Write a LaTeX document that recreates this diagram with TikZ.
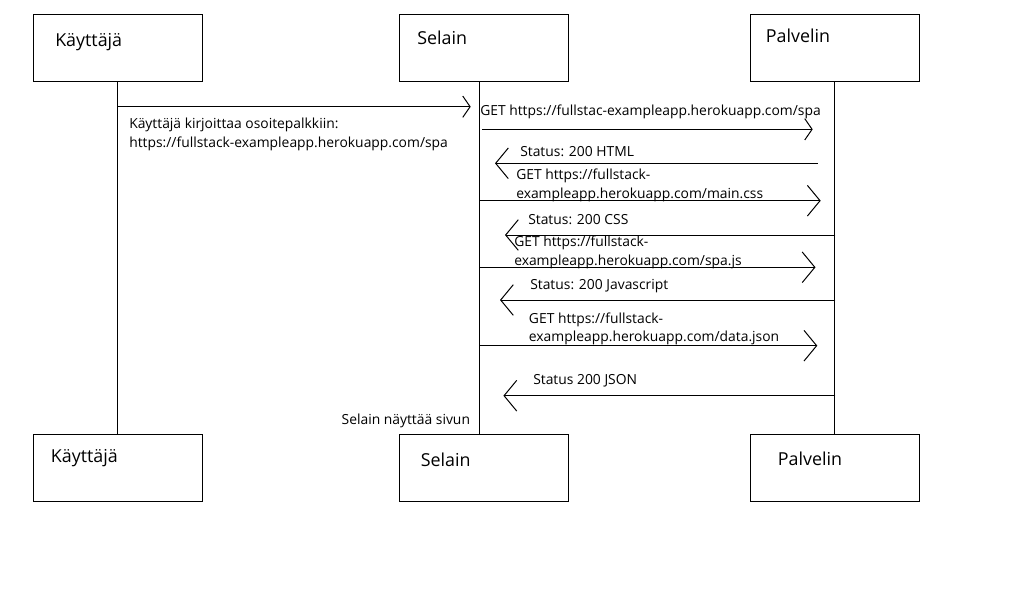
\documentclass[tikz,border=0pt]{standalone}
\usepackage{fontspec}
\setmainfont{Open Sans}
\usetikzlibrary{arrows.meta}

\begin{document}
\begin{tikzpicture}[x=0.75pt, y=-0.75pt]
		\tikzstyle {actor box} = [draw, rectangle, line width=0.75pt, minimum width=126.75pt, minimum height=50.25pt, inner sep=0pt, outer sep=0pt]
		\tikzstyle {box label} = [anchor=base west, inner sep=0pt, font=\fontsize{13.4}{16}\selectfont]
		\tikzstyle {msg label} = [anchor=base west, inner sep=0pt, align=left, font=\fontsize{10.4}{13.6}\selectfont]
		\tikzstyle {life line} = [line width=0.75pt]
		\tikzstyle {msg} = [line width=0.75pt, -{Straight Barb[length=9.5pt, width=23pt]}]
		\tikzstyle {short msg} = [line width=0.75pt, -{Straight Barb[length=5.5pt, width=16pt]}]

		\useasboundingbox[fill=white] (0,0) rectangle (1026,612);

		% actors, top and bottom
		\node[actor box] (kayttaja top) at (117.8,47.6) {};
		\node[actor box] (selain top) at (483.8,47.6) {};
		\node[actor box] (palvelin top) at (834.7,47.6) {};
		\node[actor box] (kayttaja bottom) at (117.8,467.7) {};
		\node[actor box] (selain bottom) at (483.8,467.7) {};
		\node[actor box] (palvelin bottom) at (834.7,467.7) {};

		\draw (55,46) node[box label] (kayttaja top label) {Käyttäjä};
		\draw (417,44.3) node[box label] (selain top label) {Selain};
		\draw (765.7,42.3) node[box label] (palvelin top label) {Palvelin};
		\draw (50.7,462) node[box label] (kayttaja bottom label) {Käyttäjä};
		\draw (420.6,466) node[box label] (selain bottom label) {Selain};
		\draw (777.7,465) node[box label] (palvelin bottom label) {Palvelin};

		% life lines
		\draw[life line] (kayttaja top.south) -- (kayttaja bottom.north);
		\draw[life line] ([xshift=-3.4pt]selain top.south) -- ([xshift=-3.4pt]selain bottom.north);
		\draw[life line] (palvelin top.south) -- (palvelin bottom.north);

		% messages (two-line labels sit on their last line)
		\draw[short msg] (118.3,106.7) -- (470.7,106.7);
		\draw (129,147) node[msg label] (address label) {Käyttäjä kirjoittaa osoitepalkkiin:\\https://fullstack-exampleapp.herokuapp.com/spa};

		\draw[short msg] (482,129.3) -- (812.7,129.3);
		\draw (480,115) node[msg label] (get spa label) {GET https://fullstac-exampleapp.herokuapp.com/spa};

		\draw[msg] (817.7,163.3) -- (495,163.3);
		\draw (520,156) node[msg label] (html label) {Status: 200 HTML};

		\draw[msg] (479.3,200.7) -- (820.7,200.7);
		\draw (516,198) node[msg label] (get css label) {GET https://fullstack-\\exampleapp.herokuapp.com/main.css};

		\draw[msg] (835.3,235) -- (505,235);
		\draw (528,224) node[msg label] (css label) {Status: 200 CSS};

		\draw[msg] (479.3,267.3) -- (815.5,267.3);
		\draw (514,265) node[msg label] (get js label) {GET https://fullstack-\\exampleapp.herokuapp.com/spa.js};

		\draw[msg] (835.3,300) -- (500,300);
		\draw (530,289.3) node[msg label] (js label) {Status: 200 Javascript};

		\draw[msg] (479.3,345.7) -- (817.3,345.7);
		\draw (528.7,341.7) node[msg label] (get json label) {GET https://fullstack-\\exampleapp.herokuapp.com/data.json};

		\draw[msg] (835.3,395.7) -- (503.4,395.7);
		\draw (533,384.3) node[msg label] (json label) {Status 200 JSON};

		\draw (341.4,424) node[msg label] (show label) {Selain näyttää sivun};
	\end{tikzpicture}
\end{document}
